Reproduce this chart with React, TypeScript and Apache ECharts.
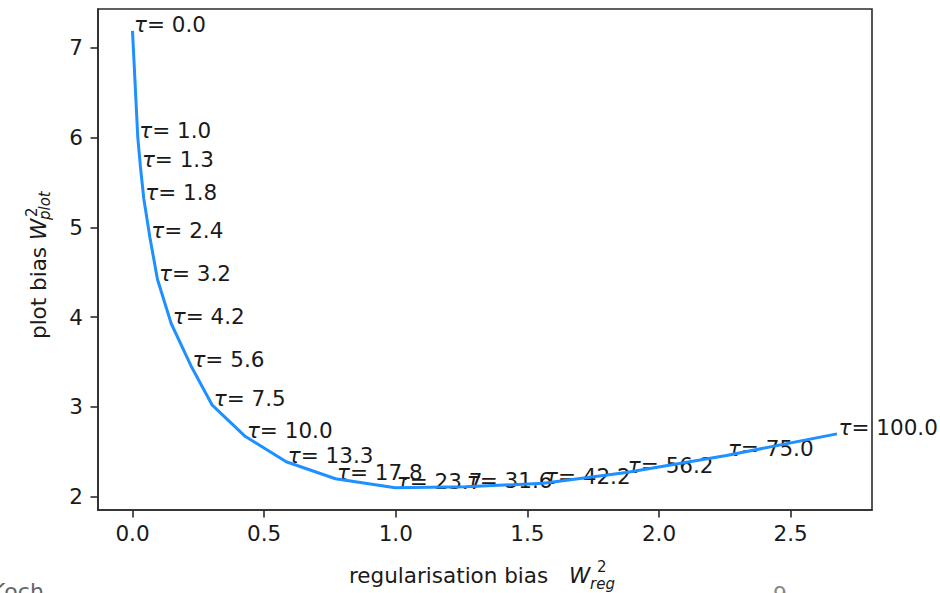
import React, { useEffect, useRef } from "react";
import * as echarts from "echarts";

const tauLabels = ["0.0", "1.0", "1.3", "1.8", "2.4", "3.2", "4.2", "5.6", "7.5", "10.0", "13.3", "17.8", "23.7", "31.6", "42.2", "56.2", "75.0", "100.0"];
const regBias = [0.0, 0.02, 0.03, 0.043, 0.066, 0.095, 0.147, 0.222, 0.303, 0.429, 0.584, 0.771, 0.998, 1.264, 1.561, 1.876, 2.256, 2.676];
const plotBias = [7.19, 6.01, 5.68, 5.32, 4.89, 4.42, 3.93, 3.46, 3.02, 2.67, 2.39, 2.2, 2.1, 2.11, 2.15, 2.27, 2.46, 2.7];
const xTicks = [0, 0.5, 1.0, 1.5, 2.0, 2.5];
const yTicks = [2, 3, 4, 5, 6, 7];

const FONT = "DejaVu Sans";
const FS = 21.5;
const TXT = "#1a1a1a";
const SPINE = "#2b2b2b";

export default function App() {
  const ref = useRef<HTMLDivElement>(null);
  useEffect(() => {
    document.body.style.margin = "0";
    if (!ref.current) return;
    const chart = echarts.init(ref.current, undefined, { renderer: "svg" });
    const points = regBias.map((x, i) => [x, plotBias[i], tauLabels[i]]);
    const baseText = { fontFamily: FONT, fill: TXT, verticalAlign: "middle" };
    chart.setOption({
      animation: false,
      backgroundColor: "#ffffff",
      grid: {
        left: 98,
        top: 9,
        right: 68,
        bottom: 83,
        show: true,
        borderColor: SPINE,
        borderWidth: 1.6,
        backgroundColor: "transparent",
      },
      xAxis: {
        type: "value",
        min: -0.131,
        max: 2.809,
        splitLine: { show: false },
        axisLine: { show: true, onZero: false, lineStyle: { color: SPINE, width: 1.6 } },
        axisTick: {
          show: true,
          customValues: xTicks,
          inside: false,
          length: 7.5,
          lineStyle: { color: SPINE, width: 1.6 },
        },
        axisLabel: {
          customValues: xTicks,
          formatter: (v: number) => v.toFixed(1),
          fontFamily: FONT,
          fontSize: FS,
          color: TXT,
          margin: 12,
        },
      },
      yAxis: {
        type: "value",
        min: 1.852,
        max: 7.434,
        splitLine: { show: false },
        axisLine: { show: true, onZero: false, lineStyle: { color: SPINE, width: 1.6 } },
        axisTick: {
          show: true,
          customValues: yTicks,
          inside: false,
          length: 7.5,
          lineStyle: { color: SPINE, width: 1.6 },
        },
        axisLabel: {
          customValues: yTicks,
          formatter: (v: number) => String(Math.round(v)),
          fontFamily: FONT,
          fontSize: FS,
          color: TXT,
          margin: 15,
        },
      },
      series: [
        {
          type: "scatter",
          data: points,
          symbolSize: 2,
          itemStyle: { color: "#1E90FF", opacity: 0 },
          z: 2,
          label: {
            show: true,
            position: [1, 1],
            align: "left",
            verticalAlign: "middle",
            offset: [1.5, -6.5],
            fontFamily: FONT,
            fontSize: FS,
            color: TXT,
            opacity: 1,
            textBorderWidth: 0,
            formatter: (p: any) => "{t|τ}{n|= " + p.data[2] + "}",
            rich: {
              t: { fontFamily: FONT, fontSize: FS, fontStyle: "italic", color: TXT, textBorderWidth: 0 },
              n: { fontFamily: FONT, fontSize: FS, color: TXT, textBorderWidth: 0 },
            },
          },
        },
        {
          type: "line",
          data: points.map((p) => [p[0], p[1]]),
          symbol: "none",
          showSymbol: false,
          lineStyle: { color: "#1E90FF", width: 3 },
          z: 3,
        },
      ],
      graphic: [
        { type: "text", x: 349, y: 575.5, style: { ...baseText, text: "regularisation bias", fontSize: FS } },
        { type: "text", x: 569, y: 575.5, style: { ...baseText, text: "W", fontSize: FS, fontStyle: "italic" } },
        { type: "text", x: 597, y: 567, style: { ...baseText, text: "2", fontSize: 15 } },
        { type: "text", x: 590, y: 583.5, style: { ...baseText, text: "reg", fontSize: 15, fontStyle: "italic" } },
        {
          type: "group",
          x: 45,
          y: 339,
          rotation: Math.PI / 2,
          children: [
            { type: "text", x: 0, y: -6.5, style: { ...baseText, text: "plot bias", fontSize: FS } },
            { type: "text", x: 99, y: -6.5, style: { ...baseText, text: "W", fontSize: FS, fontStyle: "italic" } },
            { type: "text", x: 122, y: -13, style: { ...baseText, text: "2", fontSize: 15 } },
            { type: "text", x: 119, y: -0.5, style: { ...baseText, text: "plot", fontSize: 15, fontStyle: "italic" } },
          ],
        },
        { type: "text", x: -9, y: 591.4, style: { ...baseText, text: "Koch", fontSize: 22, fill: "#666666" } },
        { type: "text", x: 773, y: 594.4, style: { ...baseText, text: "9", fontSize: 22, fill: "#888888" } },
      ],
    });
    return () => chart.dispose();
  }, []);
  return <div ref={ref} style={{ width: 940, height: 593 }} />;
}
